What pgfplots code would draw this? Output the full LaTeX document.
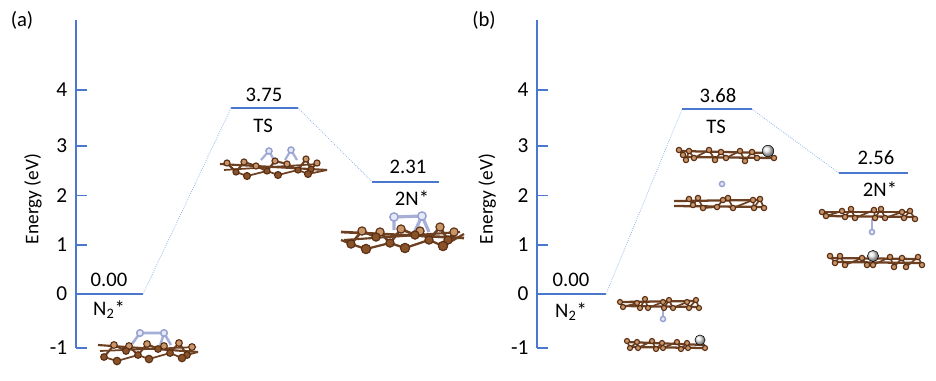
\documentclass[border=0pt]{standalone}
\usepackage{fontspec}
\setmainfont{Carlito}
\usepackage{pgfplots}
\pgfplotsset{compat=1.18}

\definecolor{lvlblue}{HTML}{4A78CE}
\definecolor{dotblue}{HTML}{8FB2EA}
\definecolor{bondbrown}{HTML}{6E4022}
\definecolor{rimbrown}{HTML}{5A2F14}
\definecolor{topbrown}{HTML}{C9966A}
\definecolor{lowbrown}{HTML}{8A5228}
\definecolor{nrim}{HTML}{98A2D0}
\definecolor{nfill}{HTML}{E6E9F6}
\definecolor{nbond}{HTML}{A6AFD8}

\tikzset{txt/.style={font=\fontsize{15.5}{18}\selectfont, inner sep=0pt}}

\pgfplotsset{
  panel/.style={
    scale only axis, height=245.8pt,
    ymin=-1.09, ymax=5.558,
    axis x line=none, axis y line=left,
    axis line style={-, lvlblue, line width=1.6pt},
    ytick={-1.09,0,1,2,3,4.14},
    yticklabels={-1,0,1,2,3,4},
    tick align=inside, major tick length=8.25pt,
    ytick style={lvlblue, line width=1.2pt},
    yticklabel style={font=\fontsize{16}{18}\selectfont, xshift=-3pt},
    /pgf/number format/assume math mode=true,
    clip=false,
  },
  level/.style={no markers, lvlblue, line width=1.6pt},
  conn/.style={no markers, dotblue, line width=0.6pt, densely dotted},
  bond/.style={no markers, bondbrown, line width=#1},
  atom/.style n args={2}{only marks, mark=*, mark size=#1,
    mark options={fill=#2, draw=rimbrown, line width=0.85pt}},
  natom/.style={only marks, mark=*, mark size=#1,
    mark options={fill=nfill, draw=nrim, line width=1.1pt}},
  nbd/.style={no markers, nbond, line width=#1},
  grey/.style={only marks, mark=ball, mark size=#1,
    mark options={ball color=gray!18}},
}

\begin{document}
\begin{tikzpicture}[x=1pt,y=1pt]
\path[use as bounding box] (0,0) rectangle (702pt,285pt);

% panel (a)
\begin{axis}[panel, at={(57pt,24.2pt)}, anchor=south west, width=288pt,
    xmin=76, xmax=460,
    ylabel={Energy (eV)},
    ylabel style={at={(axis description cs:-0.112,0.454)}, anchor=center,
      font=\fontsize{14.5}{16}\selectfont}]
  \addplot[level] coordinates {(76,0) (143,0)};
  \addplot[level] coordinates {(231,3.773) (298,3.773)};
  \addplot[level] coordinates {(372,2.278) (439,2.278)};
  \addplot[conn] coordinates {(143,0) (231,3.773)};
  \addplot[conn] coordinates {(298,3.773) (372,2.278)};
\end{axis}

% panel (b)
\begin{axis}[panel, at={(402.8pt,24.2pt)}, anchor=south west, width=299pt,
    xmin=537, xmax=935.7,
    ylabel={Energy (eV)},
    ylabel style={at={(axis description cs:-0.125,0.454)}, anchor=center,
      font=\fontsize{14.5}{16}\selectfont}]
  \addplot[level] coordinates {(537,0) (606,0)};
  \addplot[level] coordinates {(682,3.746) (752,3.746)};
  \addplot[level] coordinates {(839,2.454) (908,2.454)};
  \addplot[conn] coordinates {(606,0) (682,3.746)};
  \addplot[conn] coordinates {(752,3.746) (839,2.454)};
\end{axis}

% overlay in image pixels: text and the structure sketches
\begin{axis}[at={(0pt,0pt)}, anchor=south west, scale only axis,
    width=702pt, height=285pt, hide axis, clip=false,
    xmin=0, xmax=936, ymin=0, ymax=380, y dir=reverse]
  \node[txt] at (axis cs:22,20) {(a)};
  \node[txt] at (axis cs:484,20) {(b)};
  \node[txt] at (axis cs:109,280) {0.00};
  \node[txt] at (axis cs:109,310) {N\textsubscript{2}*};
  \node[txt] at (axis cs:264,95) {3.75};
  \node[txt] at (axis cs:263,126) {TS};
  \node[txt] at (axis cs:408,167) {2.31};
  \node[txt] at (axis cs:412,198) {2N*};
  \node[txt] at (axis cs:571,280) {0.00};
  \node[txt] at (axis cs:571,312) {N\textsubscript{2}*};
  \node[txt] at (axis cs:718,96) {3.68};
  \node[txt] at (axis cs:716,127) {TS};
  \node[txt] at (axis cs:876,158) {2.56};
  \node[txt] at (axis cs:880,189) {2N*};

  % a: N2*
  \addplot[bond=1.6pt] coordinates {(98,345) (198,352)};
  \addplot[bond=1.3pt] coordinates {(100,351) (196,347)};
  \addplot[bond=1.6pt] coordinates {(104,357) (114,345) (126,351) (129,346) (138,355) (147,344) (158,349) (164,346) (170,353) (179,343) (187,355) (192,347)};
  \addplot[bond=1.3pt] coordinates {(104,357) (117,361) (138,355) (149,359) (170,353) (182,358) (187,355) (198,352)};
  \addplot[nbd=1.9pt] coordinates {(132,344) (140,333) (164,333) (160,346)};
  \addplot[nbd=1.9pt] coordinates {(164,333) (171,345)};
  \addplot[atom={2.5pt}{topbrown}] coordinates {(114,345) (129,346) (147,344) (164,346) (179,343) (192,347)};
  \addplot[atom={2.5pt}{lowbrown}] coordinates {(104,357) (126,351) (138,355) (158,349) (170,353) (187,355)};
  \addplot[atom={2.8pt}{lowbrown}] coordinates {(117,361) (149,359) (182,358)};
  \addplot[natom=2.5pt] coordinates {(140,333) (164,333)};

  % a: TS
  \addplot[bond=1.6pt] coordinates {(220,164) (327,170)};
  \addplot[bond=1.3pt] coordinates {(224,170) (318,164)};
  \addplot[bond=1.6pt] coordinates {(227,163) (236,172) (244,162) (256,166) (267,171) (275,161) (287,164) (298,170) (306,159) (311,169) (317,163)};
  \addplot[bond=1.3pt] coordinates {(236,172) (247,176) (267,171) (278,175) (298,170) (308,174) (327,170)};
  \addplot[nbd=1.7pt] coordinates {(261,160) (269,151) (274,160)};
  \addplot[nbd=1.7pt] coordinates {(285,160) (291,150) (297,160)};
  \addplot[atom={2.3pt}{topbrown}] coordinates {(227,163) (244,162) (256,166) (275,161) (287,164) (306,159) (317,163)};
  \addplot[atom={2.3pt}{lowbrown}] coordinates {(236,172) (267,171) (298,170) (311,169)};
  \addplot[atom={2.6pt}{lowbrown}] coordinates {(247,176) (278,175) (308,174)};
  \addplot[natom=2.3pt] coordinates {(269,151) (291,150)};

  % a: 2N*
  \addplot[bond=2pt] coordinates {(341,232) (464,238)};
  \addplot[bond=1.6pt] coordinates {(344,240) (460,232)};
  \addplot[bond=2pt] coordinates {(351,244) (362,231) (376,237) (380,232) (390,243) (401,229) (415,235) (420,231) (429,240) (440,227) (448,240) (454,232)};
  \addplot[bond=1.7pt] coordinates {(341,240) (351,244) (366,249) (390,243) (405,248) (429,240) (443,246) (464,234)};
  \addplot[nbd=2.4pt] coordinates {(394,230) (394,217) (422,216) (414,233)};
  \addplot[nbd=2.4pt] coordinates {(422,216) (429,232)};
  \addplot[atom={3.1pt}{topbrown}] coordinates {(362,231) (380,232) (401,229) (420,231) (440,227) (454,232)};
  \addplot[atom={3.1pt}{lowbrown}] coordinates {(351,244) (376,237) (390,243) (415,235) (429,240) (448,240)};
  \addplot[atom={3.5pt}{lowbrown}] coordinates {(366,249) (405,248) (443,246)};
  \addplot[natom=3.1pt] coordinates {(394,217) (422,216)};

  % b: N2*, upper and lower sheet
  \addplot[bond=1.7pt] coordinates {(620,302) (696,301)};
  \addplot[bond=1.7pt] coordinates {(623,306) (699,307)};
  \addplot[bond=1.3pt] coordinates {(620,302) (623,307) (637,303) (640,308) (645,299) (648,308) (663,302) (664,308) (669,300) (673,308) (687,302) (689,308) (696,300) (699,308)};
  \addplot[nbd=1.4pt] coordinates {(663,309) (663,319)};
  \addplot[atom={1.9pt}{topbrown}] coordinates {(620,302) (623,307) (637,303) (640,308) (645,299) (648,308) (663,302) (664,308) (669,300) (673,308) (687,302) (689,308) (696,300) (699,308)};
  \addplot[natom=1.9pt] coordinates {(663,319)};
  \addplot[bond=1.7pt] coordinates {(627,342) (705,345)};
  \addplot[bond=1.7pt] coordinates {(630,347) (705,348)};
  \addplot[bond=1.3pt] coordinates {(627,341) (630,348) (637,342) (638,348) (652,341) (656,349) (662,343) (663,348) (677,342) (681,349) (687,343) (688,348)};
  \addplot[atom={1.9pt}{topbrown}] coordinates {(627,341) (630,348) (637,342) (638,348) (652,341) (656,349) (662,343) (663,348) (677,342) (681,349) (687,343) (688,348) (705,348)};
  \addplot[grey=3.8pt] coordinates {(700,340)};

  % b: TS
  \addplot[bond=1.7pt] coordinates {(679,151) (770,153)};
  \addplot[bond=1.7pt] coordinates {(685,157) (774,158)};
  \addplot[bond=1.3pt] coordinates {(679,150) (686,160) (689,151) (694,158) (709,150) (715,160) (721,152) (726,158) (740,151) (745,161) (752,152) (757,158)};
  \addplot[atom={2pt}{topbrown}] coordinates {(679,150) (683,155) (689,151) (694,158) (686,160) (709,150) (715,160) (721,152) (726,158) (740,151) (745,161) (752,152) (757,158) (774,158)};
  \addplot[grey=4.3pt] coordinates {(768,151)};
  \addplot[natom=1.9pt] coordinates {(722,184)};
  \addplot[bond=1.7pt] coordinates {(674,201) (762,200)};
  \addplot[bond=1.7pt] coordinates {(674,206) (764,207)};
  \addplot[bond=1.3pt] coordinates {(689,199) (693,205) (698,198) (703,208) (717,207) (723,200) (728,198) (733,208) (753,200) (754,208) (760,199) (764,208)};
  \addplot[atom={2pt}{topbrown}] coordinates {(689,199) (693,205) (698,198) (703,208) (717,207) (723,200) (728,198) (733,208) (753,200) (754,208) (760,199) (764,208)};

  % b: 2N*
  \addplot[bond=1.7pt] coordinates {(822,212) (910,212)};
  \addplot[bond=1.7pt] coordinates {(826,216) (915,217)};
  \addplot[bond=1.3pt] coordinates {(822,212) (826,216) (842,211) (845,217) (851,209) (855,218) (874,210) (875,218) (881,209) (885,218) (902,212) (904,218) (910,211) (915,219)};
  \addplot[nbd=1.4pt] coordinates {(872,219) (872,232)};
  \addplot[atom={2pt}{topbrown}] coordinates {(822,212) (826,216) (842,211) (845,217) (851,209) (855,218) (874,210) (875,218) (881,209) (885,218) (902,212) (904,218) (910,211) (915,219)};
  \addplot[natom=1.9pt] coordinates {(872,232)};
  \addplot[bond=1.7pt] coordinates {(830,258) (918,259)};
  \addplot[bond=1.7pt] coordinates {(835,262) (922,263)};
  \addplot[bond=1.3pt] coordinates {(830,256) (835,263) (840,256) (845,265) (862,258) (867,265) (873,265) (890,257) (894,267) (902,258) (906,267) (918,257) (922,265)};
  \addplot[atom={2pt}{topbrown}] coordinates {(830,256) (835,263) (840,256) (845,265) (862,258) (867,265) (873,265) (890,257) (894,267) (902,258) (906,267) (918,257) (922,265)};
  \addplot[grey=4.2pt] coordinates {(873,256)};
\end{axis}
\end{tikzpicture}
\end{document}
